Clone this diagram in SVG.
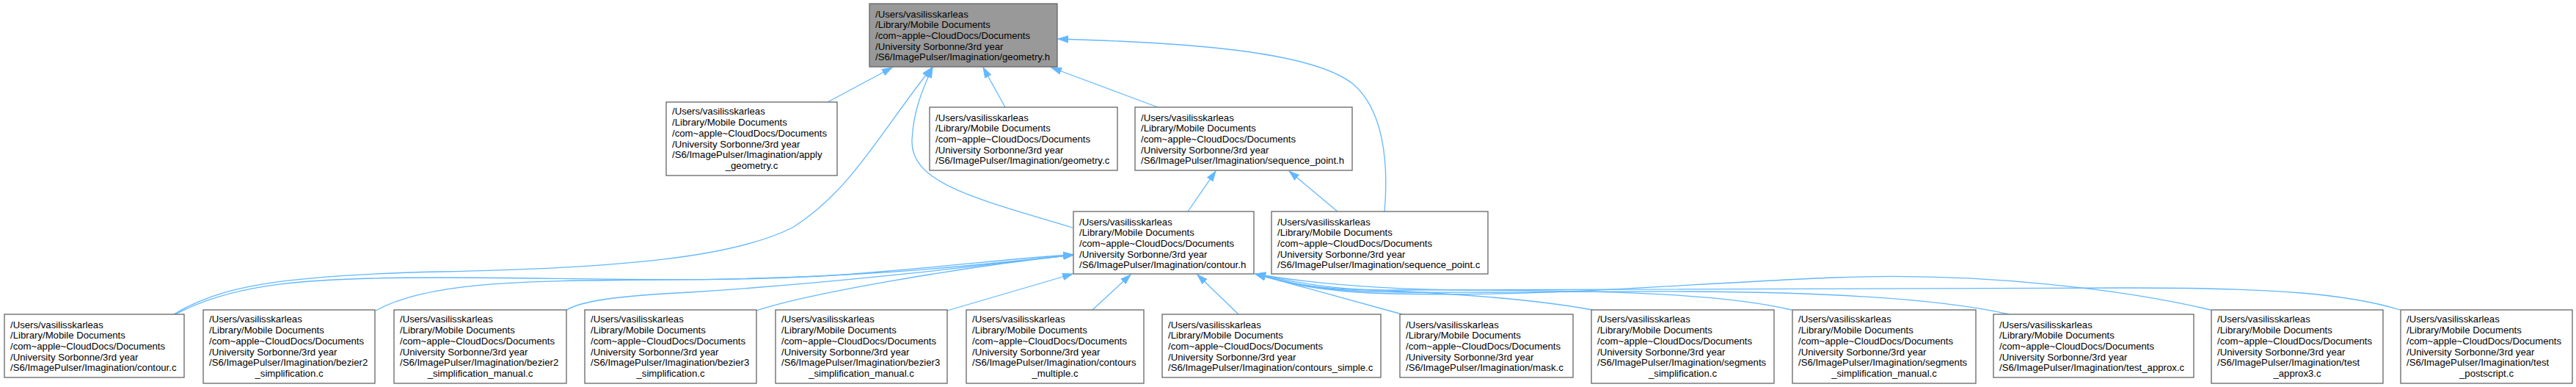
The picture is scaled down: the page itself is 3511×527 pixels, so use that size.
<svg xmlns="http://www.w3.org/2000/svg" width="3511" height="527" viewBox="0 0 3511 527">
<defs>
<style>
.n{fill:#ffffff;stroke:#666666;stroke-width:1.3}
.r{fill:#999999;stroke:#666666;stroke-width:1.3}
.t{font-family:"Liberation Sans",Arial,Helvetica,sans-serif;font-size:13.2px;fill:#000000}
.c{text-anchor:middle}
.e{fill:none;stroke:#63B8FF;stroke-width:1.3;marker-end:url(#ah)}
</style>
<marker id="ah" markerUnits="userSpaceOnUse" markerWidth="15" markerHeight="11" viewBox="0 0 15 11" refX="14" refY="5.5" orient="auto">
<path d="M0.5,1 L14,5.5 L0.5,10 z" fill="#63B8FF" stroke="#63B8FF" stroke-width="1"/>
</marker>
</defs>
<rect width="3511" height="527" fill="#ffffff"/>

<g id="edges">
<path class="e" d="M1128,139 L1216,92"/>
<path class="e" d="M1370,146 L1340,92"/>
<path class="e" d="M1578,146 L1433,92"/>
<path class="e" d="M1462,310 C1330,270 1240,250 1243,190 C1245,150 1258,120 1271,92"/>
<path class="e" d="M1887,288 C1893,220 1885,150 1845,115 C1790,70 1620,58 1442,53"/>
<path class="e" d="M237,428 C300,390 380,375 600,370 C850,365 1000,350 1080,310 C1160,260 1200,180 1270,92"/>
<path class="e" d="M1619,288 L1657,233"/>
<path class="e" d="M1823,288 L1757,233"/>
<path class="e" d="M239,428 C320,385 420,378 600,378 C800,378 1000,388 1200,370 C1320,360 1400,350 1463,347"/>
<path class="e" d="M512,423 C580,385 700,382 900,381 C1150,380 1300,365 1463,347"/>
<path class="e" d="M771,423 C790,410 840,403 940,398 C1150,385 1350,360 1463,347"/>
<path class="e" d="M1031,423 C1100,400 1300,365 1463,347"/>
<path class="e" d="M1291,423 L1462,373"/>
<path class="e" d="M1489,422 L1541,374"/>
<path class="e" d="M1688,428 L1632,374"/>
<path class="e" d="M1911,428 L1711,373"/>
<path class="e" d="M2170,422 C2080,405 1950,398 1850,394 C1790,390 1745,380 1711,373"/>
<path class="e" d="M2442,422 C2350,400 2200,396 2000,395 C1880,394 1780,385 1711,373"/>
<path class="e" d="M2738,428 C2650,408 2500,398 2300,397 C2100,396 1900,402 1820,394 C1770,389 1740,380 1711,373"/>
<path class="e" d="M3013,422 C2900,395 2700,370 2500,378 C2300,386 2100,405 1900,400 C1800,398 1750,385 1711,373"/>
<path class="e" d="M3271,422 C3200,400 3100,392 2900,392 C2500,392 2100,393 1900,395 C1800,396 1750,385 1711,373"/>
</g>

<g id="node-geometry-h">
<rect class="r" x="1185" y="5" width="256" height="86"/>
<text class="t"><tspan x="1193" y="23.5">/Users/vasilisskarleas</tspan><tspan x="1193" y="38.2">/Library/Mobile Documents</tspan><tspan x="1193" y="52.9">/com~apple~CloudDocs/Documents</tspan><tspan x="1193" y="67.6">/University Sorbonne/3rd year</tspan><tspan x="1193" y="82.3">/S6/ImagePulser/Imagination/geometry.h</tspan></text>
</g>

<g id="node-apply-geometry-c">
<rect class="n" x="908" y="139" width="233" height="100"/>
<text class="t"><tspan x="916" y="156.2">/Users/vasilisskarleas</tspan><tspan x="916" y="171">/Library/Mobile Documents</tspan><tspan x="916" y="185.7">/com~apple~CloudDocs/Documents</tspan><tspan x="916" y="200.5">/University Sorbonne/3rd year</tspan><tspan x="916" y="215.2">/S6/ImagePulser/Imagination/apply</tspan></text>
<text class="t c" x="1024.5" y="230">_geometry.c</text>
</g>

<g id="node-geometry-c">
<rect class="n" x="1267" y="146" width="256" height="86"/>
<text class="t"><tspan x="1275" y="164.5">/Users/vasilisskarleas</tspan><tspan x="1275" y="179.2">/Library/Mobile Documents</tspan><tspan x="1275" y="193.9">/com~apple~CloudDocs/Documents</tspan><tspan x="1275" y="208.6">/University Sorbonne/3rd year</tspan><tspan x="1275" y="223.3">/S6/ImagePulser/Imagination/geometry.c</tspan></text>
</g>

<g id="node-sequence-point-h">
<rect class="n" x="1547" y="146" width="296" height="86"/>
<text class="t"><tspan x="1555" y="164.5">/Users/vasilisskarleas</tspan><tspan x="1555" y="179.2">/Library/Mobile Documents</tspan><tspan x="1555" y="193.9">/com~apple~CloudDocs/Documents</tspan><tspan x="1555" y="208.6">/University Sorbonne/3rd year</tspan><tspan x="1555" y="223.3">/S6/ImagePulser/Imagination/sequence_point.h</tspan></text>
</g>

<g id="node-contour-h">
<rect class="n" x="1463" y="288" width="246" height="85"/>
<text class="t"><tspan x="1471" y="306.5">/Users/vasilisskarleas</tspan><tspan x="1471" y="321.2">/Library/Mobile Documents</tspan><tspan x="1471" y="335.9">/com~apple~CloudDocs/Documents</tspan><tspan x="1471" y="350.6">/University Sorbonne/3rd year</tspan><tspan x="1471" y="365.3">/S6/ImagePulser/Imagination/contour.h</tspan></text>
</g>

<g id="node-sequence-point-c">
<rect class="n" x="1733" y="288" width="295" height="85"/>
<text class="t"><tspan x="1741" y="306.5">/Users/vasilisskarleas</tspan><tspan x="1741" y="321.2">/Library/Mobile Documents</tspan><tspan x="1741" y="335.9">/com~apple~CloudDocs/Documents</tspan><tspan x="1741" y="350.6">/University Sorbonne/3rd year</tspan><tspan x="1741" y="365.3">/S6/ImagePulser/Imagination/sequence_point.c</tspan></text>
</g>

<g id="node-contour-c">
<rect class="n" x="6" y="428" width="245" height="86"/>
<text class="t"><tspan x="14" y="446.5">/Users/vasilisskarleas</tspan><tspan x="14" y="461.2">/Library/Mobile Documents</tspan><tspan x="14" y="475.9">/com~apple~CloudDocs/Documents</tspan><tspan x="14" y="490.6">/University Sorbonne/3rd year</tspan><tspan x="14" y="505.3">/S6/ImagePulser/Imagination/contour.c</tspan></text>
</g>

<g id="node-bezier2-simplification-c">
<rect class="n" x="277" y="422" width="234" height="100"/>
<text class="t"><tspan x="285" y="439.2">/Users/vasilisskarleas</tspan><tspan x="285" y="454">/Library/Mobile Documents</tspan><tspan x="285" y="468.7">/com~apple~CloudDocs/Documents</tspan><tspan x="285" y="483.5">/University Sorbonne/3rd year</tspan><tspan x="285" y="498.2">/S6/ImagePulser/Imagination/bezier2</tspan></text>
<text class="t c" x="394" y="513">_simplification.c</text>
</g>

<g id="node-bezier2-simplification-manual-c">
<rect class="n" x="537" y="422" width="235" height="100"/>
<text class="t"><tspan x="545" y="439.2">/Users/vasilisskarleas</tspan><tspan x="545" y="454">/Library/Mobile Documents</tspan><tspan x="545" y="468.7">/com~apple~CloudDocs/Documents</tspan><tspan x="545" y="483.5">/University Sorbonne/3rd year</tspan><tspan x="545" y="498.2">/S6/ImagePulser/Imagination/bezier2</tspan></text>
<text class="t c" x="654.5" y="513">_simplification_manual.c</text>
</g>

<g id="node-bezier3-simplification-c">
<rect class="n" x="797" y="422" width="234" height="100"/>
<text class="t"><tspan x="805" y="439.2">/Users/vasilisskarleas</tspan><tspan x="805" y="454">/Library/Mobile Documents</tspan><tspan x="805" y="468.7">/com~apple~CloudDocs/Documents</tspan><tspan x="805" y="483.5">/University Sorbonne/3rd year</tspan><tspan x="805" y="498.2">/S6/ImagePulser/Imagination/bezier3</tspan></text>
<text class="t c" x="914" y="513">_simplification.c</text>
</g>

<g id="node-bezier3-simplification-manual-c">
<rect class="n" x="1057" y="422" width="234" height="100"/>
<text class="t"><tspan x="1065" y="439.2">/Users/vasilisskarleas</tspan><tspan x="1065" y="454">/Library/Mobile Documents</tspan><tspan x="1065" y="468.7">/com~apple~CloudDocs/Documents</tspan><tspan x="1065" y="483.5">/University Sorbonne/3rd year</tspan><tspan x="1065" y="498.2">/S6/ImagePulser/Imagination/bezier3</tspan></text>
<text class="t c" x="1174" y="513">_simplification_manual.c</text>
</g>

<g id="node-contours-multiple-c">
<rect class="n" x="1317" y="422" width="242" height="100"/>
<text class="t"><tspan x="1325" y="439.2">/Users/vasilisskarleas</tspan><tspan x="1325" y="454">/Library/Mobile Documents</tspan><tspan x="1325" y="468.7">/com~apple~CloudDocs/Documents</tspan><tspan x="1325" y="483.5">/University Sorbonne/3rd year</tspan><tspan x="1325" y="498.2">/S6/ImagePulser/Imagination/contours</tspan></text>
<text class="t c" x="1438" y="513">_multiple.c</text>
</g>

<g id="node-contours-simple-c">
<rect class="n" x="1584" y="428" width="298" height="86"/>
<text class="t"><tspan x="1592" y="446.5">/Users/vasilisskarleas</tspan><tspan x="1592" y="461.2">/Library/Mobile Documents</tspan><tspan x="1592" y="475.9">/com~apple~CloudDocs/Documents</tspan><tspan x="1592" y="490.6">/University Sorbonne/3rd year</tspan><tspan x="1592" y="505.3">/S6/ImagePulser/Imagination/contours_simple.c</tspan></text>
</g>

<g id="node-mask-c">
<rect class="n" x="1908" y="428" width="236" height="86"/>
<text class="t"><tspan x="1916" y="446.5">/Users/vasilisskarleas</tspan><tspan x="1916" y="461.2">/Library/Mobile Documents</tspan><tspan x="1916" y="475.9">/com~apple~CloudDocs/Documents</tspan><tspan x="1916" y="490.6">/University Sorbonne/3rd year</tspan><tspan x="1916" y="505.3">/S6/ImagePulser/Imagination/mask.c</tspan></text>
</g>

<g id="node-segments-simplification-c">
<rect class="n" x="2169" y="422" width="249" height="100"/>
<text class="t"><tspan x="2177" y="439.2">/Users/vasilisskarleas</tspan><tspan x="2177" y="454">/Library/Mobile Documents</tspan><tspan x="2177" y="468.7">/com~apple~CloudDocs/Documents</tspan><tspan x="2177" y="483.5">/University Sorbonne/3rd year</tspan><tspan x="2177" y="498.2">/S6/ImagePulser/Imagination/segments</tspan></text>
<text class="t c" x="2293.5" y="513">_simplification.c</text>
</g>

<g id="node-segments-simplification-manual-c">
<rect class="n" x="2443" y="422" width="250" height="100"/>
<text class="t"><tspan x="2451" y="439.2">/Users/vasilisskarleas</tspan><tspan x="2451" y="454">/Library/Mobile Documents</tspan><tspan x="2451" y="468.7">/com~apple~CloudDocs/Documents</tspan><tspan x="2451" y="483.5">/University Sorbonne/3rd year</tspan><tspan x="2451" y="498.2">/S6/ImagePulser/Imagination/segments</tspan></text>
<text class="t c" x="2568" y="513">_simplification_manual.c</text>
</g>

<g id="node-test-approx-c">
<rect class="n" x="2717" y="428" width="273" height="86"/>
<text class="t"><tspan x="2725" y="446.5">/Users/vasilisskarleas</tspan><tspan x="2725" y="461.2">/Library/Mobile Documents</tspan><tspan x="2725" y="475.9">/com~apple~CloudDocs/Documents</tspan><tspan x="2725" y="490.6">/University Sorbonne/3rd year</tspan><tspan x="2725" y="505.3">/S6/ImagePulser/Imagination/test_approx.c</tspan></text>
</g>

<g id="node-test-approx3-c">
<rect class="n" x="3014" y="422" width="234" height="100"/>
<text class="t"><tspan x="3022" y="439.2">/Users/vasilisskarleas</tspan><tspan x="3022" y="454">/Library/Mobile Documents</tspan><tspan x="3022" y="468.7">/com~apple~CloudDocs/Documents</tspan><tspan x="3022" y="483.5">/University Sorbonne/3rd year</tspan><tspan x="3022" y="498.2">/S6/ImagePulser/Imagination/test</tspan></text>
<text class="t c" x="3131" y="513">_approx3.c</text>
</g>

<g id="node-test-postscript-c">
<rect class="n" x="3272" y="422" width="234" height="100"/>
<text class="t"><tspan x="3280" y="439.2">/Users/vasilisskarleas</tspan><tspan x="3280" y="454">/Library/Mobile Documents</tspan><tspan x="3280" y="468.7">/com~apple~CloudDocs/Documents</tspan><tspan x="3280" y="483.5">/University Sorbonne/3rd year</tspan><tspan x="3280" y="498.2">/S6/ImagePulser/Imagination/test</tspan></text>
<text class="t c" x="3389" y="513">_postscript.c</text>
</g>
</svg>
